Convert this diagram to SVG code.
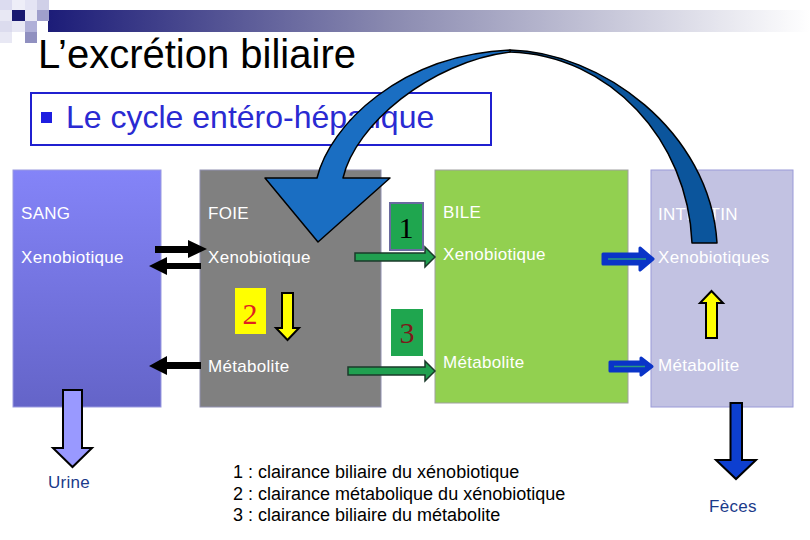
<svg xmlns="http://www.w3.org/2000/svg" width="810" height="540" viewBox="0 0 810 540">
<defs>
<linearGradient id="bar" x1="0" y1="0" x2="1" y2="0">
<stop offset="0" stop-color="#1c1c78"/>
<stop offset="0.45" stop-color="#8a8ab0"/>
<stop offset="1" stop-color="#ffffff"/>
</linearGradient>
<linearGradient id="sang" x1="0" y1="0" x2="0" y2="1">
<stop offset="0" stop-color="#8484f8"/>
<stop offset="1" stop-color="#6464c8"/>
</linearGradient>
<style>
.t{font-family:"Liberation Sans",Arial,sans-serif;}
.w{fill:#ffffff;font-size:17px;letter-spacing:0.3px;}
.num{font-family:"Liberation Serif","Times New Roman",serif;font-size:30px;text-anchor:middle;}
.blk{fill:#000000;}
.grn{fill:#20a050;stroke:#1a3a2a;stroke-width:1.5;}
.blu{fill:#0a34c8;stroke:#0a34c8;stroke-width:3;stroke-linejoin:round;}
.teal{stroke:#2a9a80;stroke-width:1.5;fill:none;}
.ylw{fill:#ffff00;stroke:#000000;stroke-width:2;}
.leg{font-size:18px;fill:#000000;}
.out{fill:#1a3a8a;font-size:17px;letter-spacing:0.3px;}
</style>
</defs>
<rect width="810" height="540" fill="#ffffff"/>
<g id="header">
<rect x="48" y="10" width="762" height="22" fill="url(#bar)"/>
<rect x="0" y="0" width="12" height="10" fill="#dcdcf0"/>
<rect x="12" y="0" width="13" height="10" fill="#eeeef8"/>
<rect x="25" y="0" width="12" height="10" fill="#e4e4f4"/>
<rect x="37" y="0" width="12" height="10" fill="#d0d0e8"/>
<rect x="0" y="10" width="12" height="11" fill="#e8e8f4"/>
<rect x="12" y="10" width="13" height="11" fill="#1a1a70"/>
<rect x="25" y="10" width="12" height="11" fill="#e8e8f4"/>
<rect x="37" y="10" width="12" height="11" fill="#a0a0cc"/>
<rect x="0" y="21" width="12" height="11" fill="#dcdcee"/>
<rect x="12" y="21" width="13" height="11" fill="#e8e8f4"/>
<rect x="25" y="21" width="12" height="11" fill="#b0b0d8"/>
<rect x="0" y="32" width="12" height="11" fill="#e8e8f4"/>
<rect x="25" y="32" width="12" height="11" fill="#9090c0"/>
<text class="t" x="38" y="68" font-size="40" fill="#000000">L’excrétion biliaire</text>
<rect x="31" y="93" width="460" height="52" fill="none" stroke="#2020d0" stroke-width="2"/>
<rect x="41" y="112" width="11" height="11" fill="#1e1ee0"/>
<text class="t" x="66" y="128" font-size="32" fill="#2a2ad2">Le cycle entéro-hépatique</text>
</g>
<g id="sang">
<rect x="13" y="170" width="148" height="237" fill="url(#sang)" stroke="#9a9ae0" stroke-width="1"/>
<text class="t w" x="21" y="219">SANG</text>
<text class="t w" x="21" y="263">Xenobiotique</text>
</g>
<g id="foie">
<rect x="200" y="170" width="181" height="237" fill="#808080" stroke="#9090b0" stroke-width="1"/>
<text class="t w" x="208" y="219">FOIE</text>
<text class="t w" x="208" y="263">Xenobiotique</text>
<text class="t w" x="208" y="372">Métabolite</text>
</g>
<g id="bile">
<rect x="435" y="170" width="193" height="233" fill="#92d050" stroke="#a0a0a0" stroke-width="1"/>
<text class="t w" x="443" y="218">BILE</text>
<text class="t w" x="443" y="260">Xenobiotique</text>
<text class="t w" x="443" y="368">Métabolite</text>
</g>
<g id="intestin">
<rect x="651" y="170" width="142" height="237" fill="#c2c2e2" stroke="#9a9ad8" stroke-width="1"/>
<text class="t w" x="658" y="220">INTESTIN</text>
<text class="t w" x="658" y="263">Xenobiotiques</text>
<text class="t w" x="658" y="371">Métabolite</text>
</g>
<g id="label1">
<rect x="390" y="203" width="33" height="47" fill="#1fa64f" stroke="#6a6aa0" stroke-width="2"/>
<text class="num" x="406" y="238" fill="#000000">1</text>
</g>
<g id="label2">
<rect x="235" y="288" width="31" height="46" fill="#ffff00"/>
<text class="num" x="250" y="324" fill="#e02020">2</text>
</g>
<g id="label3">
<rect x="391" y="309" width="32" height="47" fill="#1fa64f"/>
<text class="num" x="407" y="343" fill="#7a1a1a">3</text>
</g>
<g id="urine">
<text class="t out" x="48" y="488">Urine</text>
</g>
<g id="feces">
<text class="t out" x="709" y="512">Fèces</text>
</g>
<g id="legend">
<text class="t leg" x="233" y="478">1 : clairance biliaire du xénobiotique</text>
<text class="t leg" x="233" y="500">2 : clairance métabolique du xénobiotique</text>
<text class="t leg" x="233" y="521">3 : clairance biliaire du métabolite</text>
</g>
<g id="connectors">
<polygon class="blk" points="155,246 188,246 188,240 207,249 188,258 188,253 155,253"/>
<polygon class="blk" points="201,263 167,263 167,257 149,266 167,275 167,269 201,269"/>
<polygon class="blk" points="201,362 167,362 167,356 149,366 167,375 167,369 201,369"/>
<polygon class="grn" points="355,253 425,253 425,247 435,257 425,267 425,261 355,261"/>
<polygon class="grn" points="348,367 425,367 425,361 435,371 425,381 425,375 348,375"/>
<polygon class="blu" points="603,254 640,254 640,248 653,259 640,270 640,264 603,264"/>
<line class="teal" x1="608" y1="259" x2="646" y2="259"/>
<polygon class="blu" points="610,362 641,362 641,358 652,366.5 641,375 641,371 610,371"/>
<line class="teal" x1="614" y1="366.5" x2="645" y2="366.5"/>
<polygon class="ylw" points="282,293 293,293 293,328 299,328 287.5,340 276,328 282,328"/>
<polygon class="ylw" points="706,338 717,338 717,303 723,303 711.5,291 700,303 706,303"/>
<polygon points="63,390 82,390 82,448 92,448 72.5,467 53,448 63,448" fill="#9999ff" stroke="#000000" stroke-width="2"/>
<polygon points="730.5,403 742,403 742,460 756,460 736,479 716,460 730.5,460" fill="#0d3fd0" stroke="#000000" stroke-width="2"/>
<path d="M510,50 C600,52 710,130 717,243 L692,243 C688,140 610,55 510,52 Z" fill="#0b559c" stroke="#000000" stroke-width="1.5" stroke-linejoin="round"/>
<path d="M265,178 L317,178 C330,125 400,55 510,50 L510,52 C430,62 355,125 343,178 L390,178 L318,242 Z" fill="#1a6ec2" stroke="#000000" stroke-width="1.5" stroke-linejoin="round"/>
</g>
</svg>
